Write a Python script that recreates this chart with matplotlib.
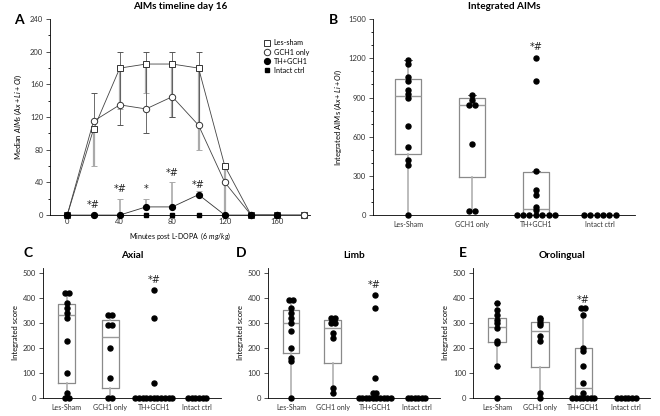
import numpy as np
import matplotlib
matplotlib.use("Agg")
from matplotlib import pyplot as plt
from matplotlib.ticker import MultipleLocator

plt.rcParams['font.family'] = ['Lato', 'DejaVu Sans']
plt.rcParams['mathtext.fontset'] = 'custom'
plt.rcParams['mathtext.it'] = 'Lato:italic'
plt.rcParams['mathtext.rm'] = 'Lato'
plt.rcParams['axes.linewidth'] = 0.6
plt.rcParams['xtick.major.width'] = 0.6
plt.rcParams['ytick.major.width'] = 0.6

# ---- panel A: timeline ----
minutes = [0, 20, 40, 60, 80, 100, 120, 140, 160, 180]
les_sham = [0, 105, 180, 185, 185, 180, 60, 0, 0, 0]
les_lo = [0, 60, 130, 150, 120, 80, 0, 0, 0, 0]
les_hi = [0, 105, 180, 185, 185, 180, 60, 0, 0, 0]
gch1 = [0, 115, 135, 130, 145, 110, 40, 0, 0, 0]
gch1_lo = [0, 115, 110, 100, 120, 110, 40, 0, 0, 0]
gch1_hi = [0, 150, 200, 200, 200, 200, 40, 0, 0, 0]
th_minutes = [0, 20, 40, 60, 80, 100, 120, 140, 160]
th_gch1 = [0, 0, 0, 10, 10, 25, 0, 0, 0]
th_hi = [0, 0, 20, 20, 40, 30, 0, 0, 0]
intact = [0, 0, 0, 0, 0, 0, 0, 0, 0]
star_x = [20, 40, 60, 80, 100]
star_y = [6, 26, 26, 46, 31]
star_txt = ["*#", "*#", "*", "*#", "*#"]

# ---- box panels ----
groups = ["Les-Sham", "GCH1 only", "TH+GCH1", "Intact ctrl"]

b_vals = [
    [1190, 1160, 1060, 1030, 960, 930, 900, 680, 520, 420, 380, 0],
    [920, 880, 840, 840, 545, 35, 35],
    [1200, 1030, 340, 190, 150, 60, 40, 0, 0, 0, 0, 0, 0, 0],
    [0, 0, 0, 0, 0, 0],
]
b_box = [(0, 470, 915, 1045, 1190), (35, 290, 840, 895, 920),
         (0, 0, 50, 330, 340), (0, 0, 0, 0, 0)]

c_vals = [
    [420, 420, 380, 360, 340, 320, 230, 100, 20, 0, 0],
    [330, 330, 290, 290, 200, 80, 0, 0],
    [430, 320, 60] + [0] * 11,
    [0] * 6,
]
c_box = [(0, 60, 330, 375, 420), (0, 40, 245, 310, 330),
         (0, 0, 0, 0, 0), (0, 0, 0, 0, 0)]

d_vals = [
    [390, 390, 360, 340, 320, 300, 270, 200, 160, 150, 0],
    [320, 320, 300, 300, 260, 240, 40, 20],
    [410, 360, 80, 20, 20] + [0] * 10,
    [0] * 6,
]
d_box = [(0, 180, 300, 350, 390), (20, 140, 280, 310, 320),
         (0, 0, 0, 0, 20), (0, 0, 0, 0, 0)]

e_vals = [
    [380, 350, 330, 310, 300, 280, 230, 220, 130, 0],
    [320, 310, 300, 290, 250, 230, 20, 0],
    [360, 360, 330, 200, 190, 130, 60, 20] + [0] * 7,
    [0] * 6,
]
e_box = [(130, 225, 285, 320, 380), (0, 125, 270, 305, 320),
         (0, 0, 40, 200, 360), (0, 0, 0, 0, 0)]

fig = plt.figure(figsize=(6.6, 4.16), dpi=100)


def style(ax):
    for s in ["top", "right"]:
        ax.spines[s].set_visible(False)
    ax.tick_params(labelsize=5.5, length=3, pad=2, colors="#333333")


def swarm(ax, vals, box, ymax, dx, ylabel, title, star_y):
    stats = []
    for v, (wl, q1, med, q3, wh) in zip(vals, box):
        stats.append(dict(whislo=wl, q1=q1, med=med, q3=q3, whishi=wh, fliers=[]))
    ax.bxp(stats, positions=range(4), widths=0.4, showfliers=False,
           boxprops=dict(color="#8a8a8a", lw=0.9),
           medianprops=dict(color="#9a9a9a", lw=1.0),
           whiskerprops=dict(color="#b0b0b0", lw=1.2),
           capprops=dict(color="#707070", lw=0.7), capwidths=0.12)
    for i, v in enumerate(vals):
        uniq, counts = np.unique(v, return_counts=True)
        for u, c in zip(uniq, counts):
            xs = i + (np.arange(c) - (c - 1) / 2) * dx
            ax.plot(xs, [u] * c, "o", color="black", ms=3.6, clip_on=False, zorder=5)
    ax.text(2, star_y, "*#", ha="center", va="bottom", fontsize=7,
            family="DejaVu Sans", color="#222222")
    ax.set_xlim(-0.55, 3.55)
    ax.set_ylim(0, ymax)
    ax.set_xticks(range(4))
    ax.set_xticklabels(groups, fontsize=5)
    ax.tick_params(axis="x", length=0, pad=4)
    ax.set_ylabel(ylabel, fontsize=5.5, labelpad=3)
    ax.set_title(title, fontsize=7.2, fontweight="bold", pad=7)


# ---- A ----
axA = fig.add_axes([0.076, 0.483, 0.394, 0.471])
style(axA)
axA.errorbar(minutes, les_sham,
             yerr=[np.array(les_sham) - np.array(les_lo), np.array(les_hi) - np.array(les_sham)],
             fmt="none", ecolor="#aaaaaa", elinewidth=1.6, capsize=2.5, capthick=0.7, zorder=1)
axA.errorbar(minutes, gch1,
             yerr=[np.array(gch1) - np.array(gch1_lo), np.array(gch1_hi) - np.array(gch1)],
             fmt="none", ecolor="#555555", elinewidth=0.6, capsize=2.5, capthick=0.7, zorder=1)
axA.errorbar(th_minutes, th_gch1, yerr=[np.zeros(9), np.array(th_hi) - np.array(th_gch1)],
             fmt="none", ecolor="#aaaaaa", elinewidth=1.2, capsize=2.5, capthick=0.7, zorder=1)
axA.plot(minutes, les_sham, "-s", color="#444444", lw=0.6, ms=4.2, mfc="white",
         mec="#333333", mew=0.7, label="Les-sham", clip_on=False, zorder=3)
axA.plot(minutes, gch1, "-o", color="#444444", lw=0.6, ms=4.6, mfc="white",
         mec="#333333", mew=0.7, label="GCH1 only", clip_on=False, zorder=3)
axA.plot(th_minutes, th_gch1, "-o", color="#333333", lw=0.6, ms=4.2, mfc="black",
         mec="black", label="TH+GCH1", clip_on=False, zorder=4)
axA.plot(th_minutes, intact, "s", ms=3.3, color="black", label="Intact ctrl",
         clip_on=False, zorder=4)
for x, y, t in zip(star_x, star_y, star_txt):
    axA.text(x, y, t, ha="center", va="bottom", fontsize=7,
             family="DejaVu Sans", color="#222222")
axA.set_xlim(-13, 185)
axA.set_ylim(0, 240)
axA.set_xticks([0, 40, 80, 120, 160])
axA.xaxis.set_minor_locator(MultipleLocator(20))
axA.set_yticks(range(0, 241, 40))
axA.yaxis.set_minor_locator(MultipleLocator(20))
axA.tick_params(which="minor", length=1.5)
axA.tick_params(axis="x", which="both", length=0)
axA.set_xlabel(r"Minutes post L-DOPA  $\it{(6\ mg/kg)}$", fontsize=5, labelpad=4)
axA.set_ylabel(r"Median $\it{AIMs\ (Ax + Li + Ol)}$", fontsize=5.5, labelpad=4)
axA.set_title("AIMs timeline day 16", fontsize=7.2, fontweight="bold", pad=7)
axA.legend(loc="upper right", bbox_to_anchor=(1.02, 0.93), frameon=False, fontsize=5.2,
           handlelength=0.8, handletextpad=0.5, labelspacing=0.3, numpoints=1)

# ---- B ----
axB = fig.add_axes([0.565, 0.483, 0.397, 0.471])
style(axB)
swarm(axB, b_vals, b_box, 1500, 0.1, r"Integrated AIMs $\it{(Ax + Li + Ol)}$",
      "Integrated AIMs", 1250)
axB.set_yticks(range(0, 1501, 300))
axB.yaxis.set_minor_locator(MultipleLocator(100))
axB.tick_params(which="minor", length=1.5)

# ---- C, D, E ----
for rect, vals, box, title, sy in [
        ([0.065, 0.043, 0.27, 0.313], c_vals, c_box, "Axial", 450),
        ([0.406, 0.043, 0.26, 0.313], d_vals, d_box, "Limb", 430),
        ([0.717, 0.043, 0.268, 0.313], e_vals, e_box, "Orolingual", 370)]:
    ax = fig.add_axes(rect)
    style(ax)
    swarm(ax, vals, box, 520, 0.085, "Integrated score", title, sy)
    ax.set_yticks(range(0, 501, 100))

# panel letters
for x, y, t in [(0.022, 0.966, "A"), (0.498, 0.966, "B"), (0.036, 0.406, "C"),
                (0.357, 0.406, "D"), (0.695, 0.406, "E")]:
    fig.text(x, y, t, fontsize=10, fontweight="bold", ha="left", va="top")

fig.savefig("out.png", dpi=100)
